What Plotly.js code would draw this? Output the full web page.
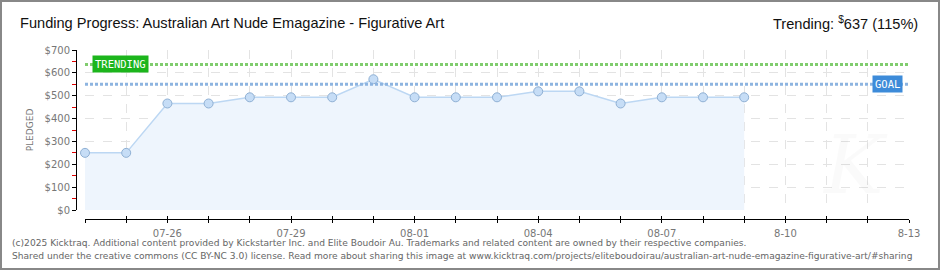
<!DOCTYPE html>
<html>
<head>
<meta charset="utf-8">
<script src="https://cdn.plot.ly/plotly-3.0.1.min.js"></script>
<style>html,body{margin:0;padding:0;background:#fff;}#chart{width:940px;height:270px;}</style>
</head>
<body>
<div id="chart"></div>
<script>
// ---- data ----
const dates = ['2025-07-24','2025-07-25','2025-07-26','2025-07-27','2025-07-28','2025-07-29','2025-07-30','2025-07-31',
               '2025-08-01','2025-08-02','2025-08-03','2025-08-04','2025-08-05','2025-08-06','2025-08-07','2025-08-08','2025-08-09'];
const pledged = [250,250,466,466,493,493,493,572,493,493,493,519,519,466,493,493,493];
const goal = 550;
const trending = 637;
const trendingPct = 115;
const rangeStart = '2025-07-24';
const rangeEnd = '2025-08-13';
const labelDates = ['2025-07-26','2025-07-29','2025-08-01','2025-08-04','2025-08-07','2025-08-10','2025-08-13'];
const labelTexts = ['07-26','07-29','08-01','08-04','08-07','8-10','8-13'];
const yTicks = [0,100,200,300,400,500,600,700];
const yTickLabels = ['$0','$100','$200','$300','$400','$500','$600','$700'];
const titleText = 'Funding Progress: Australian Art Nude Emagazine - Figurative Art';
const footer1 = '(c)2025 Kicktraq. Additional content provided by Kickstarter Inc. and Elite Boudoir Au. Trademarks and related content are owned by their respective companies.';
const footer2 = 'Shared under the creative commons (CC BY-NC 3.0) license. Read more about sharing this image at www.kicktraq.com/projects/eliteboudoirau/australian-art-nude-emagazine-figurative-art/#sharing';

// daily tick positions
const dayTicks = [];
const dayText = [];
{
  let d = new Date(rangeStart + 'T00:00:00Z');
  const end = new Date(rangeEnd + 'T00:00:00Z');
  while (d <= end) {
    const s = d.toISOString().slice(0,10);
    dayTicks.push(s);
    const i = labelDates.indexOf(s);
    dayText.push(i >= 0 ? labelTexts[i] : ' ');
    d = new Date(d.getTime() + 86400000);
  }
}

const W = 940, H = 270;
const px = v => v / W;
const py = v => 1 - v / H;

const traces = [
  {x: dates, y: pledged, type: 'scatter', mode: 'lines+markers', fill: 'tozeroy',
   fillcolor: '#eef5fd', line: {color: '#bcd7f3', width: 1.5},
   marker: {size: 9, color: '#c6ddf6', line: {color: '#8fb0d4', width: 1}},
   cliponaxis: false, hoverinfo: 'x+y', showlegend: false},
  {x: [rangeStart, rangeEnd], y: [trending, trending], type: 'scatter', mode: 'lines',
   line: {color: '#80cc6e', width: 3, dash: '3px,2px'}, hoverinfo: 'skip', showlegend: false},
  {x: [rangeStart, rangeEnd], y: [goal, goal], type: 'scatter', mode: 'lines',
   line: {color: '#8db4e0', width: 3, dash: '3px,2px'}, hoverinfo: 'skip', showlegend: false},
  {x: [rangeStart], y: [0], xaxis: 'x2', type: 'scatter', mode: 'markers',
   marker: {opacity: 0}, hoverinfo: 'skip', showlegend: false}
];

const tickFont = {family: 'DejaVu Sans', size: 10, color: '#777'};
const xCommon = {
  type: 'date', range: [rangeStart, rangeEnd], domain: [px(85), px(909)],
  anchor: 'free', position: (H - 219) / H,
  tickmode: 'array', tickvals: dayTicks, ticktext: dayText,
  showline: true, linecolor: '#000', linewidth: 1, tickcolor: '#000', ticklen: 3, tickwidth: 1,
  zeroline: false, fixedrange: true
};

const layout = {
  width: W, height: H,
  margin: {l: 0, r: 0, t: 0, b: 0},
  paper_bgcolor: '#fff', plot_bgcolor: '#fff',
  title: {text: titleText, x: px(20), xanchor: 'left', xref: 'paper', y: py(23), yanchor: 'middle', yref: 'paper',
          font: {family: 'Liberation Sans, Arial, sans-serif', size: 14.6, color: '#111'}},
  xaxis: Object.assign({}, xCommon, {
    ticks: 'outside', showgrid: true, gridcolor: '#e3e3e3', griddash: 'dash', gridwidth: 1,
    tickfont: tickFont, ticklabelstandoff: 2
  }),
  xaxis2: Object.assign({}, xCommon, {
    overlaying: 'x', ticks: 'inside', showgrid: false, showticklabels: false
  }),
  yaxis: {
    range: [0, 700], domain: [(H - 210) / H, (H - 50) / H],
    anchor: 'free', position: px(76),
    tickmode: 'array', tickvals: yTicks, ticktext: yTickLabels,
    showline: true, linecolor: '#000', linewidth: 1,
    ticks: 'outside', ticklen: 4, tickcolor: '#000',
    minor: {dtick: 50, ticks: 'outside', ticklen: 4, tickcolor: '#e00000', showgrid: false},
    showgrid: true, gridcolor: '#e3e3e3', griddash: 'dash', zeroline: false,
    tickfont: tickFont,
    title: {text: 'PLEDGED', font: {family: 'DejaVu Sans', size: 9, color: '#777'}, standoff: 8},
    fixedrange: true
  },
  shapes: [
    {type: 'rect', xref: 'paper', yref: 'paper', x0: px(1), x1: px(939), y0: py(269), y1: py(1),
     line: {color: '#888', width: 2}, fillcolor: 'rgba(0,0,0,0)'}
  ],
  annotations: [
    {text: 'Trending: <sup>$</sup>' + trending + ' (' + trendingPct + '%)', xref: 'paper', yref: 'paper',
     x: px(920), y: py(23), xanchor: 'right', yanchor: 'middle', showarrow: false,
     font: {family: 'Liberation Sans, Arial, sans-serif', size: 14.6, color: '#111'}},
    {text: 'TRENDING', xref: 'paper', yref: 'y', x: px(121), y: trending, xanchor: 'center', yanchor: 'middle',
     showarrow: false, bgcolor: '#1cb51c', borderpad: 2,
     font: {family: 'DejaVu Sans Mono', size: 10.5, color: '#fff'}},
    {text: 'GOAL', xref: 'paper', yref: 'y', x: px(887), y: goal, xanchor: 'center', yanchor: 'middle',
     showarrow: false, bgcolor: '#3d8bd9', borderpad: 2,
     font: {family: 'DejaVu Sans Mono', size: 10.5, color: '#fff'}},
    {text: '<i>K</i>', xref: 'paper', yref: 'paper', x: px(855), y: py(165), xanchor: 'center', yanchor: 'middle',
     showarrow: false, font: {family: 'DejaVu Serif', size: 80, color: 'rgba(0,0,0,0.02)'}},
    {text: footer1, xref: 'paper', yref: 'paper', x: px(10), y: py(243), xanchor: 'left', yanchor: 'middle',
     showarrow: false, font: {family: 'DejaVu Sans', size: 9.1, color: '#666'}},
    {text: footer2, xref: 'paper', yref: 'paper', x: px(10), y: py(256), xanchor: 'left', yanchor: 'middle',
     showarrow: false, font: {family: 'DejaVu Sans', size: 9.1, color: '#666'}}
  ]
};

Plotly.newPlot('chart', traces, layout, {displayModeBar: false, staticPlot: true});
</script>
</body>
</html>
